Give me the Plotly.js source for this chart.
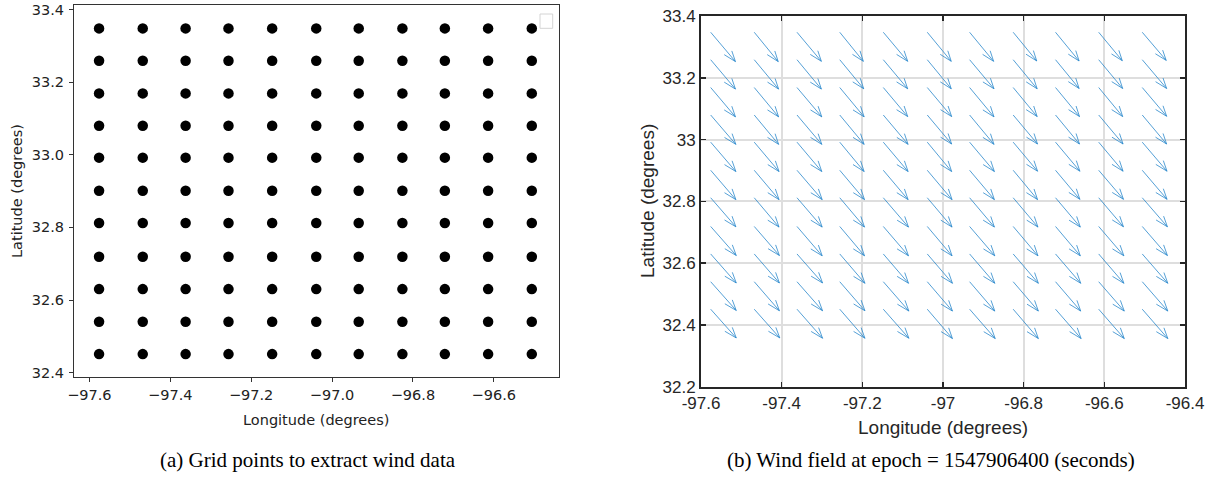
<!DOCTYPE html>
<html>
<head>
<meta charset="utf-8">
<script src="https://cdn.plot.ly/plotly-3.0.1.min.js"></script>
<style>
  html, body { margin: 0; padding: 0; background: #ffffff; }
  #chart { width: 1217px; height: 479px; }
</style>
</head>
<body>
<div id="chart"></div>
<script>
// Grid point longitudes (columns, west to east) and latitudes (rows, north to south)
const gridLon = [-97.576, -97.468, -97.362, -97.256, -97.148, -97.039, -96.934, -96.826, -96.721, -96.614, -96.506];
const gridLat = [33.348, 33.259, 33.169, 33.080, 32.992, 32.901, 32.812, 32.719, 32.630, 32.540, 32.451];

// Wind components at each grid point (m/s), rows follow gridLat, columns follow gridLon
const windU = [
  [6.2, 6.0, 6.1, 5.9, 6.1, 6.0, 6.0, 5.9, 5.9, 5.9, 6.0],
  [6.2, 6.1, 6.1, 6.0, 6.1, 6.0, 6.1, 6.0, 5.9, 6.0, 6.1],
  [6.2, 6.1, 6.2, 6.1, 6.1, 6.1, 6.1, 6.0, 6.0, 6.0, 6.1],
  [6.3, 6.1, 6.2, 6.1, 6.2, 6.1, 6.1, 6.1, 6.0, 6.1, 6.1],
  [6.3, 6.2, 6.2, 6.1, 6.2, 6.1, 6.2, 6.1, 6.1, 6.1, 6.2],
  [6.3, 6.2, 6.3, 6.2, 6.2, 6.2, 6.2, 6.1, 6.1, 6.2, 6.2],
  [6.3, 6.2, 6.3, 6.2, 6.3, 6.2, 6.2, 6.2, 6.2, 6.2, 6.3],
  [6.4, 6.3, 6.3, 6.2, 6.3, 6.2, 6.3, 6.2, 6.2, 6.3, 6.3],
  [6.4, 6.3, 6.4, 6.3, 6.3, 6.3, 6.3, 6.3, 6.3, 6.3, 6.4],
  [6.4, 6.3, 6.4, 6.3, 6.4, 6.3, 6.3, 6.3, 6.3, 6.4, 6.4],
  [6.4, 6.4, 6.4, 6.3, 6.4, 6.3, 6.4, 6.3, 6.4, 6.4, 6.4]
];
const windV = [
  [-9.6, -9.6, -9.5, -9.5, -9.5, -9.5, -9.5, -9.4, -9.4, -9.3, -9.2],
  [-9.6, -9.6, -9.6, -9.5, -9.5, -9.5, -9.5, -9.5, -9.4, -9.4, -9.4],
  [-9.6, -9.6, -9.6, -9.6, -9.5, -9.5, -9.6, -9.5, -9.5, -9.5, -9.4],
  [-9.6, -9.6, -9.6, -9.6, -9.6, -9.5, -9.6, -9.5, -9.5, -9.5, -9.5],
  [-9.6, -9.6, -9.6, -9.6, -9.6, -9.6, -9.6, -9.5, -9.5, -9.5, -9.5],
  [-9.6, -9.6, -9.6, -9.6, -9.6, -9.6, -9.6, -9.6, -9.5, -9.5, -9.5],
  [-9.5, -9.6, -9.6, -9.6, -9.6, -9.6, -9.6, -9.6, -9.6, -9.5, -9.5],
  [-9.5, -9.5, -9.6, -9.6, -9.6, -9.6, -9.6, -9.6, -9.6, -9.6, -9.5],
  [-9.5, -9.5, -9.5, -9.6, -9.6, -9.6, -9.6, -9.6, -9.6, -9.6, -9.6],
  [-9.4, -9.5, -9.5, -9.5, -9.6, -9.6, -9.6, -9.6, -9.6, -9.6, -9.6],
  [-9.4, -9.4, -9.5, -9.5, -9.5, -9.6, -9.6, -9.6, -9.6, -9.6, -9.6]
];

// Tick labels
const lonTicksA = [-97.6, -97.4, -97.2, -97.0, -96.8, -96.6];
const lonTextA = ['\u221297.6', '\u221297.4', '\u221297.2', '\u221297.0', '\u221296.8', '\u221296.6'];
const latTicksA = [32.4, 32.6, 32.8, 33.0, 33.2, 33.4];
const latTextA = ['32.4', '32.6', '32.8', '33.0', '33.2', '33.4'];
const lonTicksB = [-97.6, -97.4, -97.2, -97.0, -96.8, -96.6, -96.4];
const lonTextB = ['-97.6', '-97.4', '-97.2', '-97', '-96.8', '-96.6', '-96.4'];
const latTicksB = [32.2, 32.4, 32.6, 32.8, 33.0, 33.2, 33.4];
const latTextB = ['32.2', '32.4', '32.6', '32.8', '33', '33.2', '33.4'];

// Flatten the grid into point lists
const ptLon = [], ptLat = [];
gridLat.forEach(function (la) {
  gridLon.forEach(function (lo) { ptLon.push(lo); ptLat.push(la); });
});

// Quiver: automatic scaling based on mean grid spacing and the strongest vector
const nRow = gridLat.length, nCol = gridLon.length;
const delx = (Math.max.apply(null, gridLon) - Math.min.apply(null, gridLon)) / nCol;
const dely = (Math.max.apply(null, gridLat) - Math.min.apply(null, gridLat)) / nRow;
let maxSpeed = 0;
for (let r = 0; r < nRow; r++) for (let c = 0; c < nCol; c++) {
  maxSpeed = Math.max(maxSpeed, Math.hypot(windU[r][c], windV[r][c]));
}
const qScale = 0.9 * Math.sqrt(delx * delx + dely * dely) / maxSpeed;
const headLen = 0.3, headWidth = 0.33;

const shaftX = [], shaftY = [];
for (let r = 0; r < nRow; r++) {
  for (let c = 0; c < nCol; c++) {
    const x0 = gridLon[c], y0 = gridLat[r];
    const du = windU[r][c] * qScale, dv = windV[r][c] * qScale;
    const tx = x0 + du, ty = y0 + dv;
    // shaft
    shaftX.push(x0, tx, null);
    shaftY.push(y0, ty, null);
    // head barbs
    shaftX.push(tx - headLen * (du + headWidth * dv), tx, tx - headLen * (du - headWidth * dv), null);
    shaftY.push(ty - headLen * (dv - headWidth * du), ty, ty - headLen * (dv + headWidth * du), null);
  }
}

const traces = [
  {
    type: 'scatter', mode: 'markers', x: ptLon, y: ptLat,
    xaxis: 'x', yaxis: 'y',
    marker: { color: '#000000', size: 10.5, line: { width: 0 } },
    hoverinfo: 'x+y'
  },
  {
    type: 'scatter', mode: 'lines', x: shaftX, y: shaftY,
    xaxis: 'x2', yaxis: 'y2',
    line: { color: '#2a88cc', width: 0.8 },
    connectgaps: false, hoverinfo: 'skip'
  }
];

const fontA = { family: 'DejaVu Sans', size: 14.5, color: '#222222' };
const fontB = { family: 'Liberation Sans, Arial, sans-serif', size: 17, color: '#262626' };
const fontCap = { family: 'Liberation Serif, Times New Roman, serif', size: 21, color: '#000000' };
const W = 1217, H = 479;
const px = function (v) { return v / W; };
const py = function (v) { return 1 - v / H; };

const layout = {
  width: W, height: H,
  margin: { l: 0, r: 0, t: 0, b: 0, pad: 0 },
  paper_bgcolor: '#ffffff', plot_bgcolor: '#ffffff',
  showlegend: false,
  xaxis: {
    domain: [px(74), px(559.3)], range: [-97.638, -96.438], anchor: 'y',
    tickvals: lonTicksA, ticktext: lonTextA,
    ticks: 'outside', ticklen: 4, tickwidth: 1, tickcolor: '#333333',
    ticklabelstandoff: 1,
    showline: true, linecolor: '#333333', linewidth: 1, mirror: true,
    showgrid: false, zeroline: false, tickfont: fontA, fixedrange: true
  },
  yaxis: {
    domain: [py(377), py(5)], range: [32.388, 33.4124], anchor: 'x',
    tickvals: latTicksA, ticktext: latTextA,
    ticks: 'outside', ticklen: 4, tickwidth: 1, tickcolor: '#333333',
    ticklabelstandoff: 2,
    showline: true, linecolor: '#333333', linewidth: 1, mirror: true,
    showgrid: false, zeroline: false, tickfont: fontA, fixedrange: true
  },
  xaxis2: {
    domain: [px(701), px(1185)], range: [-97.6, -96.4], anchor: 'y2',
    tickvals: lonTicksB, ticktext: lonTextB,
    ticks: 'inside', ticklen: 5, tickwidth: 1.5, tickcolor: '#262626',
    showline: true, linecolor: '#262626', linewidth: 2, mirror: 'ticks',
    showgrid: true, gridcolor: '#dedede', gridwidth: 2,
    zeroline: false, tickfont: fontB, fixedrange: true
  },
  yaxis2: {
    domain: [py(386.7), py(16.2)], range: [32.2, 33.4], anchor: 'x2',
    tickvals: latTicksB, ticktext: latTextB,
    ticks: 'inside', ticklen: 5, tickwidth: 1.5, tickcolor: '#262626',
    showline: true, linecolor: '#262626', linewidth: 2, mirror: 'ticks',
    showgrid: true, gridcolor: '#dedede', gridwidth: 2,
    zeroline: false, tickfont: fontB, fixedrange: true
  },
  shapes: [
    // empty legend frame in the upper right corner of panel (a)
    { type: 'rect', xref: 'paper', yref: 'paper',
      x0: px(540), x1: px(552.7), y0: py(28.3), y1: py(14),
      line: { color: '#d4d4d4', width: 1 }, fillcolor: 'rgba(255,255,255,0.8)' }
  ],
  annotations: [
    { text: 'Latitude (degrees)', xref: 'paper', yref: 'paper', x: px(17), y: py(191),
      textangle: -90, showarrow: false, xanchor: 'center', yanchor: 'middle', font: fontA },
    { text: 'Longitude (degrees)', xref: 'paper', yref: 'paper', x: px(316), y: py(419.5),
      showarrow: false, xanchor: 'center', yanchor: 'middle', font: fontA },
    { text: 'Latitude (degrees)', xref: 'paper', yref: 'paper', x: px(647), y: py(201),
      textangle: -90, showarrow: false, xanchor: 'center', yanchor: 'middle',
      font: { family: fontB.family, size: 19, color: '#262626' } },
    { text: 'Longitude (degrees)', xref: 'paper', yref: 'paper', x: px(943), y: py(427.5),
      showarrow: false, xanchor: 'center', yanchor: 'middle',
      font: { family: fontB.family, size: 19, color: '#262626' } },
    { text: '(a) Grid points to extract wind data', xref: 'paper', yref: 'paper',
      x: px(307.5), y: py(460), showarrow: false, xanchor: 'center', yanchor: 'middle',
      font: fontCap },
    { text: '(b) Wind field at epoch = 1547906400 (seconds)', xref: 'paper', yref: 'paper',
      x: px(931), y: py(460), showarrow: false, xanchor: 'center', yanchor: 'middle',
      font: fontCap }
  ]
};

Plotly.newPlot('chart', traces, layout, { staticPlot: true, displayModeBar: false });
</script>
</body>
</html>
